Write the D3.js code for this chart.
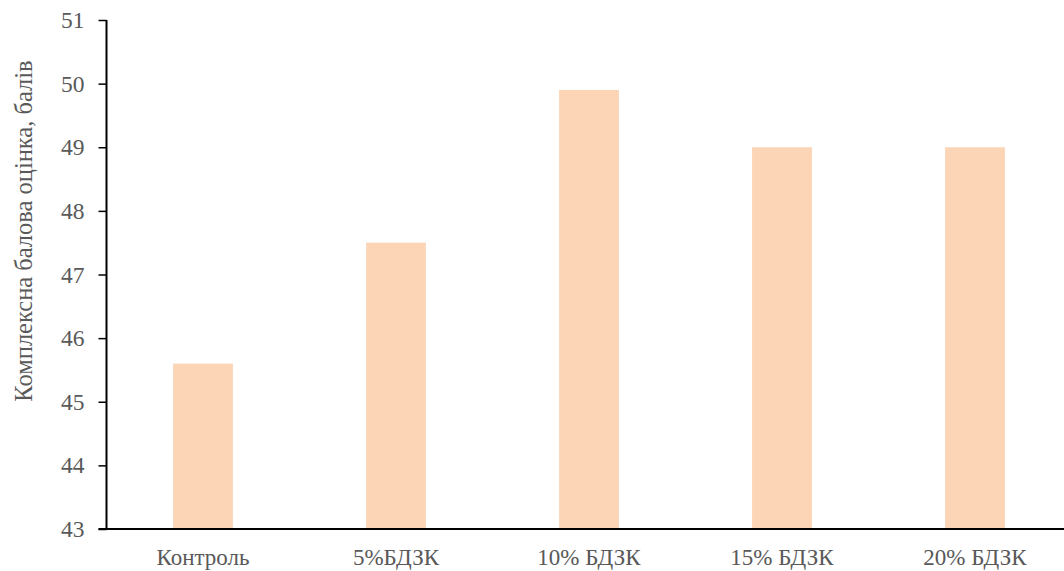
<!DOCTYPE html>
<html>
<head>
<meta charset="utf-8">
<script src="https://cdn.jsdelivr.net/npm/d3@7"></script>
<style>
  html, body { margin: 0; padding: 0; background: #fff; }
  svg { display: block; }
</style>
</head>
<body>
<svg id="chart" width="1064" height="571"></svg>
<script>
// Complex score by treatment variant
const categories = ["Контроль", "5%БДЗК", "10% БДЗК", "15% БДЗК", "20% БДЗК"];
const scores = [45.6, 47.5, 49.9, 49.0, 49.0];
const yTicks = [43, 44, 45, 46, 47, 48, 49, 50, 51];
const yTitle = "Комплексна балова оцінка, балів";

const FONT = "Liberation Serif";
const TEXT_COLOR = "#595959";

const svg = d3.select("#chart");
const plotLeft = 106.5, plotRight = 1071.5, plotTop = 20, plotBottom = 529;

const x = d3.scaleBand().domain(categories).range([plotLeft, plotRight]).paddingInner(0.69).paddingOuter(0.345);
const y = d3.scaleLinear().domain([43, 51]).range([plotBottom, plotTop]);

// bars
svg.append("g").selectAll("rect")
  .data(categories.map((c, i) => ({ c, v: scores[i] })))
  .join("rect")
  .attr("x", d => x(d.c))
  .attr("width", x.bandwidth())
  .attr("y", d => y(d.v))
  .attr("height", d => y(43) - y(d.v))
  .attr("fill", "#FBD5B5");

// y axis
const yAxis = svg.append("g")
  .attr("transform", `translate(${plotLeft},0)`)
  .call(d3.axisLeft(y).tickValues(yTicks).tickSize(8).tickPadding(14).tickFormat(d3.format("d")));
yAxis.select(".domain").attr("stroke", "#000").attr("stroke-width", 2).attr("d", `M0,${plotTop}V${plotBottom}`);
yAxis.selectAll(".tick line").attr("stroke", "#000").attr("stroke-width", 1.5);
yAxis.selectAll(".tick text")
  .attr("fill", TEXT_COLOR).attr("font-family", FONT).attr("font-size", 23.5);

// x axis
const xAxis = svg.append("g")
  .attr("transform", `translate(0,${plotBottom})`)
  .call(d3.axisBottom(x).tickSize(0).tickPadding(20));
xAxis.select(".domain").attr("stroke", "#000").attr("stroke-width", 2).attr("d", `M${plotLeft - 8},0H${plotRight}`);
xAxis.selectAll(".tick text")
  .attr("fill", TEXT_COLOR).attr("font-family", FONT).attr("font-size", 23);

// y axis title
svg.append("text")
  .attr("transform", "translate(32,231) rotate(-90)")
  .attr("text-anchor", "middle")
  .attr("font-family", FONT)
  .attr("font-size", 24.5)
  .attr("fill", TEXT_COLOR)
  .text(yTitle);
</script>
</body>
</html>
